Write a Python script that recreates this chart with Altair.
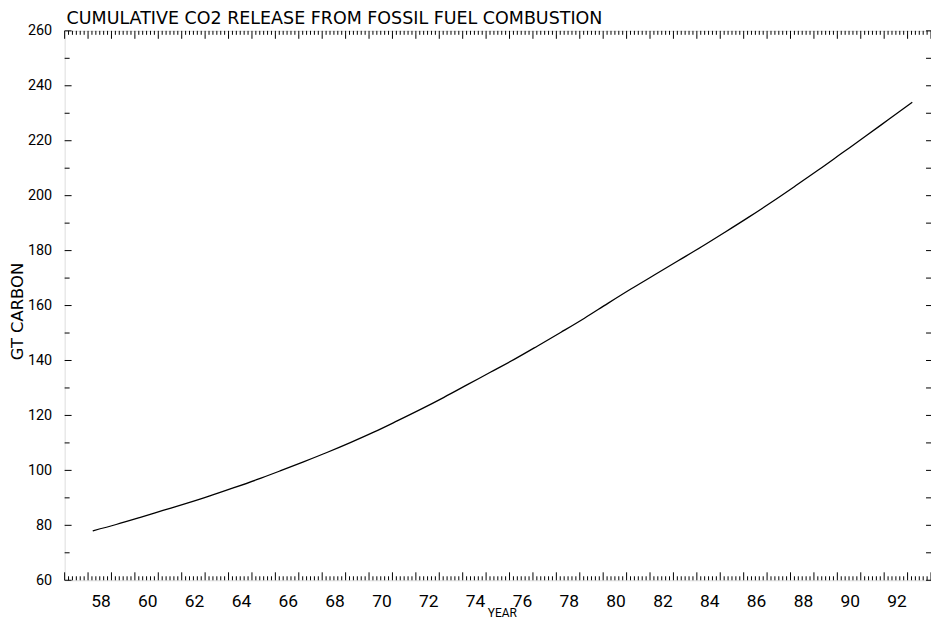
import altair as alt
import pandas as pd
import numpy as np

# Data
years = list(range(1958, 1994))
cum_gtc = [78.0, 80.3, 82.8, 85.4, 88.0, 90.7, 93.6, 96.6, 99.8, 103.1,
           106.5, 110.1, 113.9, 118.0, 122.2, 126.6, 131.2, 135.8, 140.4, 145.3,
           150.3, 155.4, 160.8, 166.1, 171.2, 176.3, 181.4, 186.7, 192.1, 197.7,
           203.5, 209.4, 215.5, 221.6, 227.8, 234.0]

x_labels = list(range(58, 93, 2))
y_labels = list(range(60, 261, 20))
title_text = "CUMULATIVE CO2 RELEASE FROM FOSSIL FUEL COMBUSTION"

W, H = 872, 553
X_DOM = [57, 94]
Y_DOM = [60, 260]
FONT = "Roboto"
WIDE = "DejaVu Sans"

df = pd.DataFrame({"year": years, "gtc": cum_gtc})

# tick positions (axis furniture)
xt = np.round(np.arange(57, 94 + 1e-9, 1 / 6), 4)
xticks = pd.DataFrame({"t": xt, "major": np.isclose(xt, np.round(xt))})
yt = list(range(60, 261, 10))
yticks = pd.DataFrame({"v": yt, "major": [v % 20 == 0 for v in yt]})

xs = alt.Scale(domain=X_DOM, nice=False, zero=False)
ys = alt.Scale(domain=Y_DOM, nice=False, zero=False)

line = alt.Chart(df).transform_calculate(
    xp="datum.year - 1900 + 0.2"
).mark_line(color="black", strokeWidth=1.3, interpolate="monotone").encode(
    x=alt.X("xp:Q", scale=xs, axis=alt.Axis(
        values=x_labels, title="YEAR", labelOffset=12.5, ticks=False, tickSize=0,
        domain=False, grid=False, labelPadding=12, labelFontSize=17.5,
        labelFont=FONT, labelColor="black", titleFont=FONT, titleFontSize=12,
        titleFontWeight="normal", titleColor="black", titleX=440, titleY=32,
        titleBaseline="middle")),
    y=alt.Y("gtc:Q", scale=ys, axis=alt.Axis(
        values=y_labels, title="GT CARBON", ticks=False, tickSize=0,
        domain=False, grid=False, labelPadding=13, labelFontSize=14.5,
        labelFont=FONT, labelColor="black", titleFont=WIDE, titleFontSize=16.5,
        titleFontWeight="normal", titleColor="black", titleX=-47, titleY=282,
        titleBaseline="middle")),
)

xmaj = xticks[xticks["major"]]
xmin = xticks[~xticks["major"]]

def xrule(data, y0, y1):
    return alt.Chart(data).mark_rule(color="black", strokeWidth=1).encode(
        x=alt.X("t:Q", scale=xs),
        y=alt.value(y0), y2=alt.value(y1))

ymaj = yticks[yticks["major"]]
ymin = yticks[~yticks["major"]]

def yrule(data, x0, x1):
    return alt.Chart(data).mark_rule(color="black", strokeWidth=1).encode(
        y=alt.Y("v:Q", scale=ys),
        x=alt.value(x0), x2=alt.value(x1))

title_layer = alt.Chart(pd.DataFrame({"t": [title_text]})).mark_text(
    align="left", baseline="alphabetic", font=WIDE, fontSize=17.6,
    color="black").encode(text="t:N", x=alt.value(2), y=alt.value(-7))

chart = alt.layer(
    line,
    xrule(xmin, H, H - 4), xrule(xmaj, H, H - 8),
    xrule(xmin, 0, 4), xrule(xmaj, 0, 8),
    yrule(ymaj, 0, 7), yrule(ymin, 0, 5),
    yrule(yticks, W, W - 5),
    title_layer,
).properties(
    width=W, height=H,
    padding={"left": 57, "top": 21, "right": 0, "bottom": 37},
    autosize=alt.AutoSizeParams(type="none"),
).configure_view(stroke="black", strokeWidth=1.5).configure(background="white")

chart.save("out.html", embed_options={"renderer": "svg", "actions": False})
